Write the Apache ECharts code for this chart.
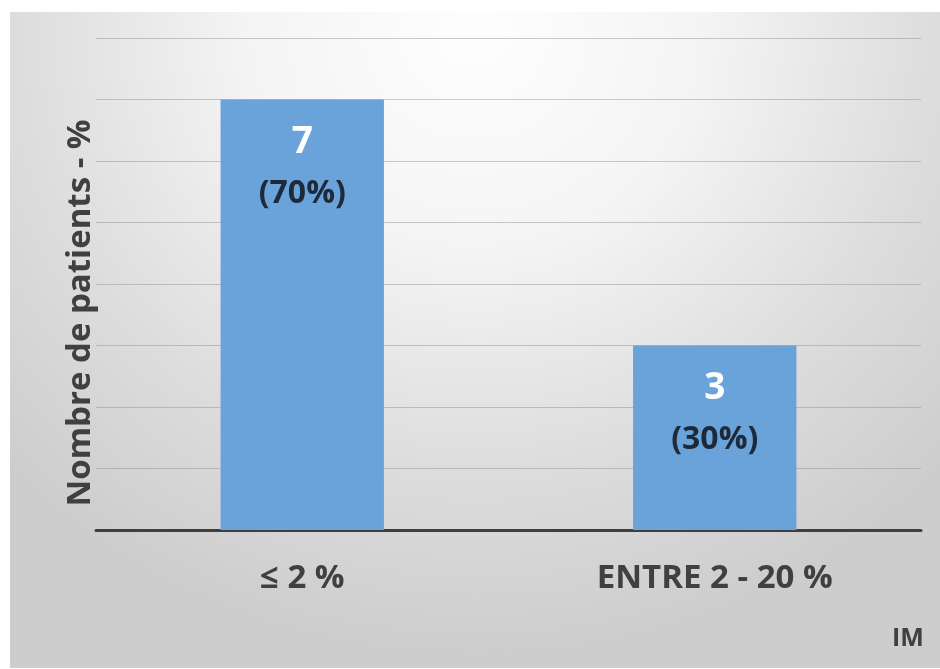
<!DOCTYPE html>
<html><head><meta charset="utf-8">
<script src="https://cdn.jsdelivr.net/npm/echarts@6/dist/echarts.min.js"></script>
<style>
html,body{margin:0;padding:0;background:#fff;}
#bg{position:absolute;left:10px;top:12px;width:930px;height:656px;
background:radial-gradient(ellipse 70% 95% at 50% 3%, #fefefe 0%, #f4f4f4 35%, #dddddd 70%, #cdcdcd 100%);}
#chart{position:absolute;left:0;top:0;width:940px;height:669px;}
</style></head>
<body>
<div id="bg"></div>
<div id="chart"></div>
<script>
const categories = ['≤ 2 %', 'ENTRE 2 - 20 %'];
const counts = [7, 3];
const percents = ['70%', '30%'];
const yMin = 0, yMax = 8, yInterval = 1;
const yTitle = 'Nombre de patients - %';
const cornerText = 'IM';

const chart = echarts.init(document.getElementById('chart'), null, {renderer:'canvas'});
chart.setOption({
  backgroundColor: 'transparent',
  animation: false,
  grid: {left: 96, right: 19, top: 38, bottom: 139},
  xAxis: {
    type: 'category',
    data: categories,
    axisLine: {lineStyle: {color: '#3f3f3f', width: 3}},
    axisTick: {show: false},
    axisLabel: {
      color: '#404040', fontSize: 33, fontWeight: 'bold', margin: 32,
      fontFamily: '"Open Sans", sans-serif'
    }
  },
  yAxis: {
    type: 'value', min: yMin, max: yMax, interval: yInterval,
    axisLabel: {show: false},
    axisLine: {show: false},
    axisTick: {show: false},
    splitLine: {lineStyle: {color: 'rgba(140,140,140,0.45)', width: 1}}
  },
  series: [{
    type: 'bar',
    data: counts.map((v, i) => ({value: v, pct: percents[i]})),
    barWidth: '39.6%',
    itemStyle: {color: '#6aa3d9'},
    label: {
      show: true, position: 'insideTop', distance: 18,
      formatter: p => '{a|' + p.value + '}\n{b|(' + p.data.pct + ')}',
      rich: {
        a: {color: '#ffffff', fontSize: 37, fontWeight: 'bold', lineHeight: 50, fontFamily: '"Open Sans", sans-serif'},
        b: {color: '#1c2a3a', fontSize: 32, fontWeight: 'bold', lineHeight: 52, fontFamily: '"Open Sans", sans-serif'}
      }
    }
  }],
  graphic: [{
    type: 'text', x: 81, y: 313, rotation: Math.PI / 2,
    style: {text: yTitle, fill: '#404040', font: 'bold 33px "Open Sans", sans-serif',
            align: 'center', verticalAlign: 'middle'}
  }, {
    type: 'text', left: 892, top: 626,
    style: {text: cornerText, fill: '#404040', font: 'bold 25px "Open Sans", sans-serif'}
  }]
});
</script>
</body></html>
